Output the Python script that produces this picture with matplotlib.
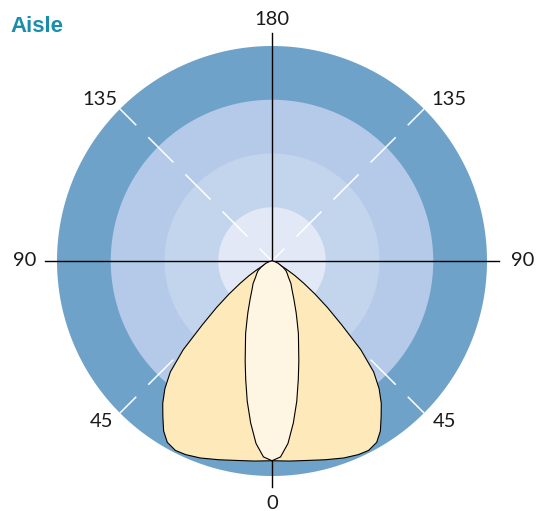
import numpy as np
import matplotlib
matplotlib.use("Agg")
import matplotlib.pyplot as plt
from matplotlib.transforms import offset_copy

plt.rcParams['font.family'] = ['Lato', 'DejaVu Sans']
plt.rcParams['lines.scale_dashes'] = False

# polar light distribution, gamma in degrees (0 = straight down), r relative to outer ring
gamma_c0 = [0, 5, 10, 15, 20, 24, 27, 30, 32.5, 35, 37.5, 40, 42.5, 45, 47.5,
            50, 52.5, 55, 57.5, 60, 65, 70, 75, 90]
r_c0 = [0.929, 0.934, 0.942, 0.957, 0.975, 0.986, 0.989, 0.974, 0.938, 0.885,
        0.835, 0.775, 0.700, 0.585, 0.440, 0.337, 0.250, 0.180, 0.126, 0.080,
        0.035, 0.010, 0.0, 0.0]

gamma_c90 = [0, 2.5, 5, 7.5, 10, 12.5, 15, 17.5, 20, 22.5, 25, 30, 35, 40, 45,
             50, 55, 60, 70, 80, 90]
r_c90 = [0.929, 0.912, 0.852, 0.760, 0.663, 0.565, 0.482, 0.411, 0.359, 0.306,
         0.266, 0.203, 0.162, 0.137, 0.109, 0.093, 0.080, 0.060, 0.030, 0.010, 0.0]

ring_radii = [1.0, 0.75, 0.5, 0.25]
ring_colors = ['#6fa2c9', '#b4cae8', '#c3d5ed', '#e2e8f6']

# angle labels: text, position angle (deg, + = right side), radius
label_texts = ['0', '45', '90', '135', '180', '45', '90', '135']
label_angles = [0, 47.4, 90.4, 132.6, 180, -46.9, -90.4, -133.5]
label_radii = [1.121, 1.093, 1.167, 1.119, 1.130, 1.083, 1.149, 1.102]


def mirror(g, r):
    g = np.radians(np.array(g, dtype=float))
    r = np.array(r, dtype=float)
    th = np.concatenate([-g[::-1], g[1:]])
    rr = np.concatenate([r[::-1], r[1:]])
    return th, rr


fig = plt.figure(figsize=(5.4, 5.11), dpi=100)
R = 236.5  # axes radius in px (r = 1.1)
cx, cy = 272, 511 - 261
ax = fig.add_axes([(cx - R) / 540, (cy - R) / 511, 2 * R / 540, 2 * R / 511],
                  projection='polar')
ax.set_theta_zero_location('S')
ax.set_ylim(0, 1.1)
ax.set_axis_off()

# rings
th_full = np.linspace(0, 2 * np.pi, 361)
for rad, col in zip(ring_radii, ring_colors):
    ax.fill(th_full, np.full_like(th_full, rad), color=col, lw=0, zorder=1)

# white dashed diagonals
for a in [45, 135, -45, -135]:
    ax.plot([np.radians(a)] * 2, [0, 1.0], color='white', lw=1.1,
            linestyle=(12.96, (25.56, 12.24)), zorder=2)

# black axis lines
for a, rend in [(0, 1.05), (90, 1.057), (180, 1.06), (-90, 1.057)]:
    ax.plot([np.radians(a)] * 2, [0, rend], color='black', lw=1.0, zorder=3)

# distribution curves
th, rr = mirror(gamma_c0, r_c0)
ax.fill(th, rr, facecolor='#fde9ba', edgecolor='black', lw=0.8, zorder=4)
th, rr = mirror(gamma_c90, r_c90)
ax.fill(th, rr, facecolor='#fef5e2', edgecolor='black', lw=0.8, zorder=5)

# baseline sits about half a cap height below the visual centre
lab_tr = offset_copy(ax.transData, fig=fig, x=0, y=-7, units='dots')
for a, t, r in zip(label_angles, label_texts, label_radii):
    ax.text(np.radians(a), r, t, ha='center', va='baseline', fontsize=14.5,
            color='#1a1a1a', transform=lab_tr, zorder=6)

fig.text(10 / 540, 1 - 32 / 511, 'Aisle', fontsize=16, fontweight='bold',
         family=['Liberation Sans', 'DejaVu Sans'],
         color='#1a8dab', ha='left', va='baseline')

fig.savefig('out.png', dpi=100)
